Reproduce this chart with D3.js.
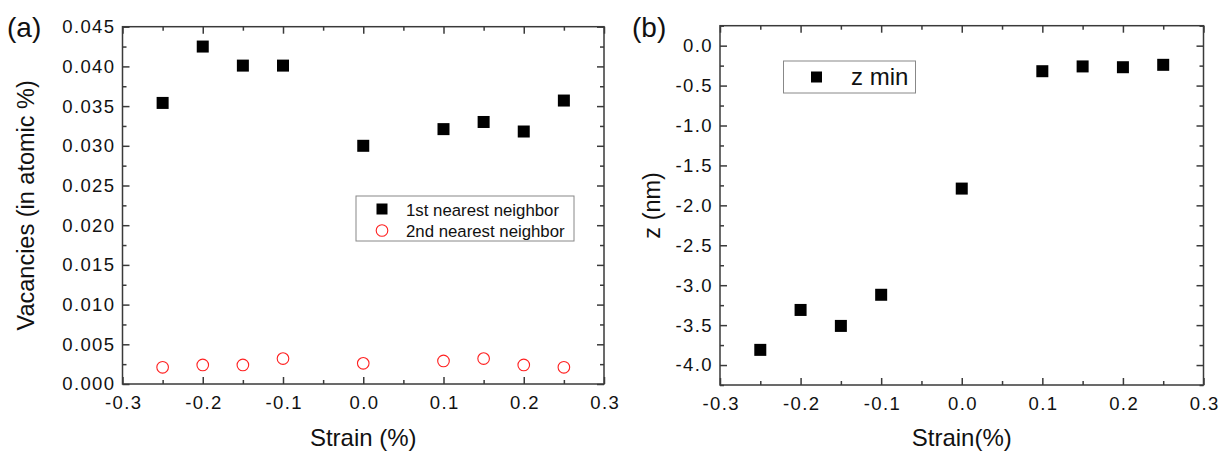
<!DOCTYPE html>
<html>
<head>
<meta charset="utf-8">
<script src="https://cdn.jsdelivr.net/npm/d3@7"></script>
<style>
  body { margin: 0; background: #fff; }
  svg text { font-family: "Liberation Sans", Arial, sans-serif; fill: #111; }
</style>
</head>
<body>
<div id="chart"></div>
<script>
// strain values shared by both panels
const strain = [-0.25, -0.2, -0.15, -0.1, 0.0, 0.1, 0.15, 0.2, 0.25];
// panel (a): vacancies (atomic %)
const firstNeighbor = [0.0354, 0.0425, 0.0401, 0.0401, 0.0300, 0.0321, 0.0330, 0.0318, 0.0357];
const secondNeighbor = [0.0021, 0.0024, 0.0024, 0.0032, 0.0026, 0.0029, 0.0032, 0.0024, 0.0021];
// panel (b): z min (nm)
const zMin = [-3.81, -3.31, -3.51, -3.12, -1.79, -0.32, -0.26, -0.27, -0.24];

const xTicks = [-0.3, -0.2, -0.1, 0.0, 0.1, 0.2, 0.3];
const xMinor = [-0.25, -0.15, -0.05, 0.05, 0.15, 0.25];
const yTicksA = [0, 0.005, 0.01, 0.015, 0.02, 0.025, 0.03, 0.035, 0.04, 0.045];
const yMinorA = [0.0025, 0.0075, 0.0125, 0.0175, 0.0225, 0.0275, 0.0325, 0.0375, 0.0425];
const yTicksB = [-4.0, -3.5, -3.0, -2.5, -2.0, -1.5, -1.0, -0.5, 0.0];
const yMinorB = [-4.25, -3.75, -3.25, -2.75, -2.25, -1.75, -1.25, -0.75, -0.25, 0.25];

const svg = d3.select("#chart").append("svg")
  .attr("width", 1227)
  .attr("height", 453);

const axisColor = "#3a3a3a";

// plain hyphen like the original, not the unicode minus
function fmt(spec) {
  const f = d3.format(spec);
  return d => f(d).replace("\u2212", "-");
}

function panel(opt) {
  const x = d3.scaleLinear().domain([-0.3, 0.3]).range([opt.left, opt.right]);
  const y = d3.scaleLinear().domain(opt.yDomain).range([opt.bottom, opt.top]);
  const g = svg.append("g");

  // bottom axis, ticks inward
  const bx = g.append("g").attr("transform", `translate(0,${opt.bottom})`)
    .call(d3.axisBottom(x).tickValues(xTicks).tickSize(-7).tickPadding(12).tickFormat(fmt(".1f")));
  bx.selectAll("text").attr("dx", 0.7);
  g.append("g").attr("transform", `translate(0,${opt.bottom})`)
    .call(d3.axisBottom(x).tickValues(xMinor).tickSize(-4).tickFormat(""));
  // top mirror
  g.append("g").attr("transform", `translate(0,${opt.top})`)
    .call(d3.axisTop(x).tickValues(xTicks).tickSize(-7).tickFormat(""));
  g.append("g").attr("transform", `translate(0,${opt.top})`)
    .call(d3.axisTop(x).tickValues(xMinor).tickSize(-4).tickFormat(""));
  // left axis
  g.append("g").attr("transform", `translate(${opt.left},0)`)
    .call(d3.axisLeft(y).tickValues(opt.yTicks).tickSize(-7).tickPadding(7).tickFormat(fmt(opt.yFormat)));
  g.append("g").attr("transform", `translate(${opt.left},0)`)
    .call(d3.axisLeft(y).tickValues(opt.yMinor).tickSize(-4).tickFormat(""));
  // right mirror
  g.append("g").attr("transform", `translate(${opt.right},0)`)
    .call(d3.axisRight(y).tickValues(opt.yTicks).tickSize(-7).tickFormat(""));
  g.append("g").attr("transform", `translate(${opt.right},0)`)
    .call(d3.axisRight(y).tickValues(opt.yMinor).tickSize(-4).tickFormat(""));

  g.selectAll(".domain").remove();
  g.selectAll(".tick line").attr("stroke", axisColor).attr("stroke-width", 1.5);
  g.selectAll(".tick text")
    .style("font-size", "18.5px")
    .style("letter-spacing", "1.4px")
    .attr("fill", "#111");

  g.append("rect")
    .attr("x", opt.left).attr("y", opt.top)
    .attr("width", opt.right - opt.left).attr("height", opt.bottom - opt.top)
    .attr("fill", "none").attr("stroke", axisColor).attr("stroke-width", 1.5);

  // axis titles
  g.append("text")
    .attr("x", (opt.left + opt.right) / 2).attr("y", 446)
    .attr("text-anchor", "middle").style("font-size", "24px")
    .text(opt.xTitle);
  g.append("text")
    .attr("transform", `translate(${opt.yTitleX},${(opt.top + opt.bottom) / 2}) rotate(-90)`)
    .attr("text-anchor", "middle").style("font-size", "23.5px")
    .text(opt.yTitle);
  g.append("text")
    .attr("x", opt.tagX).attr("y", 37)
    .style("font-size", "28px")
    .text(opt.tag);

  return { g, x, y };
}

function squares(g, x, y, values) {
  g.append("g").selectAll("rect")
    .data(values)
    .enter().append("rect")
    .attr("x", (d, i) => x(strain[i]) - 6)
    .attr("y", d => y(d) - 6)
    .attr("width", 12).attr("height", 12)
    .attr("fill", "#000");
}

// ---- panel (a)
const a = panel({
  left: 122.5, right: 604, top: 26.7, bottom: 384,
  yDomain: [0, 0.045], yTicks: yTicksA, yMinor: yMinorA, yFormat: ".3f",
  xTitle: "Strain (%)", yTitle: "Vacancies (in atomic %)", yTitleX: 34,
  tag: "(a)", tagX: 7
});
squares(a.g, a.x, a.y, firstNeighbor);
a.g.append("g").selectAll("circle")
  .data(secondNeighbor)
  .enter().append("circle")
  .attr("cx", (d, i) => a.x(strain[i]))
  .attr("cy", d => a.y(d))
  .attr("r", 5.8)
  .attr("fill", "none").attr("stroke", "#ff2020").attr("stroke-width", 1.1);

// legend (a)
const legA = a.g.append("g");
legA.append("rect").attr("x", 356).attr("y", 196).attr("width", 218).attr("height", 45)
  .attr("fill", "#fff").attr("stroke", "#888").attr("stroke-width", 1);
legA.append("rect").attr("x", 376.5).attr("y", 203.5).attr("width", 11).attr("height", 11).attr("fill", "#000");
legA.append("circle").attr("cx", 382).attr("cy", 230.5).attr("r", 5.8)
  .attr("fill", "none").attr("stroke", "#ff2020").attr("stroke-width", 1.1);
legA.append("text").attr("x", 406).attr("y", 215.5).style("font-size", "16.8px").text("1st nearest neighbor");
legA.append("text").attr("x", 406).attr("y", 236.5).style("font-size", "16.8px").text("2nd nearest neighbor");

// ---- panel (b)
const b = panel({
  left: 720, right: 1203.5, top: 25.7, bottom: 385,
  yDomain: [-4.25, 0.25], yTicks: yTicksB, yMinor: yMinorB, yFormat: ".1f",
  xTitle: "Strain(%)", yTitle: "z (nm)", yTitleX: 660,
  tag: "(b)", tagX: 632
});
squares(b.g, b.x, b.y, zMin);

// legend (b)
const legB = b.g.append("g");
legB.append("rect").attr("x", 783.5).attr("y", 61).attr("width", 132).attr("height", 32)
  .attr("fill", "#fff").attr("stroke", "#888").attr("stroke-width", 1);
legB.append("rect").attr("x", 811).attr("y", 71.5).attr("width", 11).attr("height", 11).attr("fill", "#000");
legB.append("text").attr("x", 851).attr("y", 85).style("font-size", "24px").text("z min");
</script>
</body>
</html>
